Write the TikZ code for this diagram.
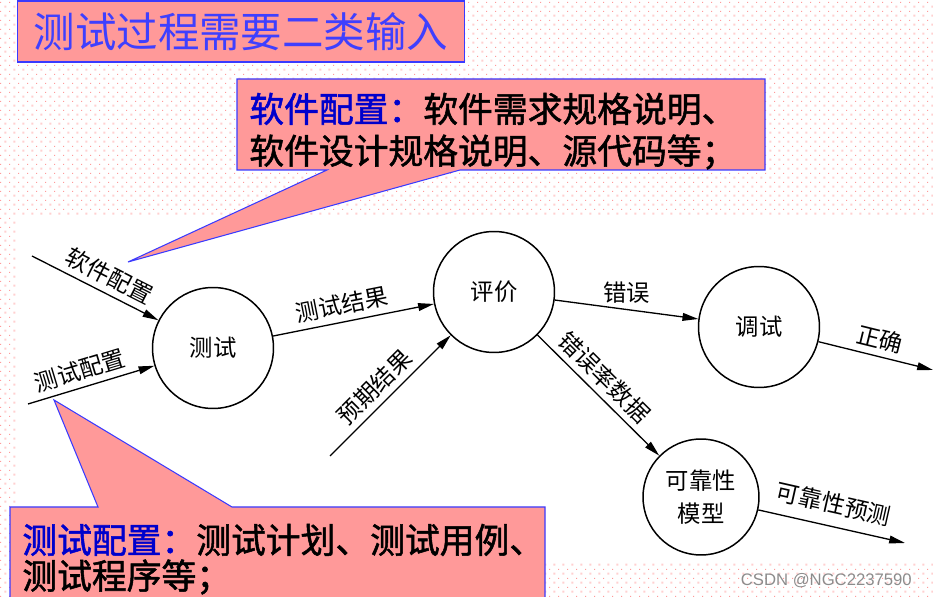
\documentclass[tikz,border=0pt]{standalone}
\usepackage{fontspec}
\setmainfont{Noto Sans CJK SC}
\newfontfamily\boldcjk[FakeBold=1.5]{Noto Sans CJK SC}
\newfontfamily\markfont{Liberation Sans}
\usepackage{xcolor}
\usetikzlibrary{arrows.meta, patterns.meta}

\definecolor{calloutpink}{HTML}{FF9999}
\definecolor{calloutblue}{HTML}{3A3AFF}
\definecolor{titleblue}{HTML}{3F3FFF}
\definecolor{headblue}{HTML}{0000CC}
\definecolor{dotpink}{HTML}{FF9A9A}
\definecolor{dotpinklight}{HTML}{FFD0D0}

\tikzdeclarepattern{
  name=pinkdots,
  type=colored,
  bottom left={(0pt,0pt)},
  top right={(5.1pt,5.1pt)},
  tile size={(5.1pt,5.1pt)},
  code={
    \fill[dotpink] (0pt,0pt) rectangle (0.7pt,0.7pt);
    \fill[dotpinklight] (2.55pt,2.55pt) rectangle (3.6pt,3.6pt);
  }
}

\begin{document}
\begin{tikzpicture}[
  x=0.02cm, y=-0.02cm,
  font=\fontsize{13.3}{16}\selectfont,
  proc/.style={circle, draw, line width=0.85pt, minimum size=2.42cm, inner sep=0pt},
  flow/.style={-{Triangle[length=9pt, width=4.4pt]}, line width=0.75pt},
  lbl/.style={above, sloped},
  callout/.style={fill=calloutpink, draw=calloutblue, line width=0.6pt},
  calltext/.style={anchor=west, inner sep=0pt, font=\boldcjk\fontsize{19.8}{24}\selectfont},
  ]
  \useasboundingbox (0,0) rectangle (933,597);

  % --- slide background: dotted, white panel behind the flow chart ---
  \fill[pattern=pinkdots] (0,0) rectangle (933,597);
  \fill[white] (18,217) rectangle (933,563);

  % --- title ---
  \node[callout, minimum width=8.96cm, minimum height=1.22cm, text=titleblue,
        font=\fontsize{23.6}{28}\selectfont] (title) at (241,31.5) {测试过程需要二类输入};

  % --- callout: software configuration ---
  \coordinate (swtip) at (128,262);
  \draw[callout] (237,79) -- (765,79) -- (765,170) -- (460,170) -- (swtip)
    -- (327,170) -- (237,170) -- cycle;
  \node[calltext] (swline1) at (249,109) {\textcolor{headblue}{软件配置：}软件需求规格说明、};
  \node[calltext] (swline2) at (249,152) {软件设计规格说明、源代码等；};

  % --- callout: test configuration ---
  \coordinate (tctip) at (54,400);
  \draw[callout] (10,507) -- (98,507) -- (tctip) -- (232,507) -- (545,507)
    -- (545,610) -- (10,610) -- cycle;
  \node[calltext] (tcline1) at (22,540) {\textcolor{headblue}{测试配置：}测试计划、测试用例、};
  \node[calltext] (tcline2) at (22,577) {测试程序等；};

  % --- processes ---
  \node[proc] (test)  at (213,348) {测试};
  \node[proc] (eval)  at (494,292) {评价};
  \node[proc] (debug) at (759,327) {调试};
  \node[proc, minimum size=2.32cm, align=center,
        font=\fontsize{13.3}{18.5}\selectfont] (model) at (701,497) {可靠性\\模型};

  % --- free ends of the flows ---
  \coordinate (swin)   at (32,256);
  \coordinate (tcin)   at (28,404);
  \coordinate (expin)  at (330,456);
  \coordinate (okout)  at (933,370);
  \coordinate (relout) at (905,543);

  % --- flows ---
  \draw[flow] (swin) -- (test) node[lbl, pos=0.55] {软件配置};
  \draw[flow] (tcin) -- (test) node[lbl, pos=0.45] {测试配置};
  \draw[flow] (test) -- (eval) node[lbl, pos=0.45] {测试结果};
  \draw[flow] (expin) -- (eval) node[lbl, pos=0.47] {预期结果};
  \draw[flow] (eval) -- (debug) node[midway, above] {错误};
  \draw[flow] (eval) -- (model) node[lbl, pos=0.45] {错误率数据};
  \draw[flow] (debug) -- (okout) node[lbl, pos=0.5] {正确};
  \draw[flow] (model) -- (relout) node[lbl, above=3pt, pos=0.48] {可靠性预测};

  % --- watermark ---
  \node[anchor=east, text=black!45, font=\markfont\fontsize{9.5}{11}\selectfont]
    (mark) at (918,581) {CSDN @NGC2237590};
\end{tikzpicture}
\end{document}
